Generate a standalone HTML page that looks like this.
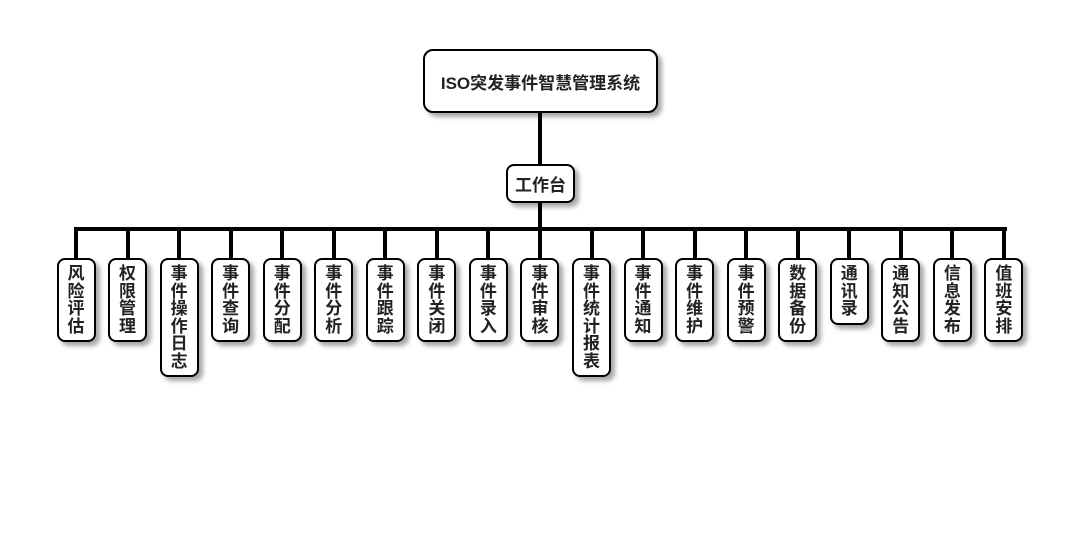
<!DOCTYPE html>
<html><head><meta charset="utf-8"><style>
html,body{margin:0;padding:0;background:#fff;}
body{width:1080px;height:560px;position:relative;overflow:hidden;font-family:"Liberation Sans","Noto Sans CJK SC",sans-serif;font-weight:bold;color:#222;}
.b{position:absolute;background:#fff;border:2px solid #000;box-sizing:border-box;border-radius:8px;box-shadow:4px 4px 5px rgba(0,0,0,0.35);display:flex;align-items:center;justify-content:center;text-align:center;}
.l{position:absolute;background:#000;}
.leaf{width:39px;top:258px;font-size:17px;line-height:17.5px;padding:0 10px;word-break:break-all;}
</style></head><body>
<div class="b" style="left:423px;top:49px;width:235px;height:64px;border-radius:10px;font-size:17px;">ISO突发事件智慧管理系统</div>
<div class="l" style="left:538px;top:112px;width:4px;height:53px;"></div>
<div class="b" style="left:506px;top:164px;width:69px;height:39px;font-size:17px;">工作台</div>
<div class="l" style="left:538px;top:202px;width:4px;height:28px;"></div>
<div class="l" style="left:74px;top:227px;width:933px;height:4px;"></div>
<div id="c"></div>
<script>
var n=["风险评估","权限管理","事件操作日志","事件查询","事件分配","事件分析","事件跟踪","事件关闭","事件录入","事件审核","事件统计报表","事件通知","事件维护","事件预警","数据备份","通讯录","通知公告","信息发布","值班安排"];
var h="";
for(var i=0;i<n.length;i++){
 var cx=76+i*51.55;
 var len=n[i].length;
 var hh=len*17.5+14;
 h+='<div class="l" style="left:'+(cx-2)+'px;top:229px;width:4px;height:30px;"></div>';
 h+='<div class="b leaf" style="left:'+(cx-19.5)+'px;height:'+hh+'px;">'+n[i]+'</div>';
}
document.getElementById("c").innerHTML=h;
</script>
</body></html>
